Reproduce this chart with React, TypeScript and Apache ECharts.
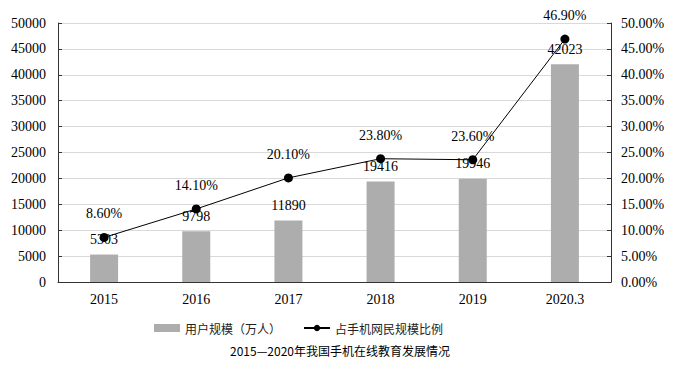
import React, { useEffect, useRef } from "react";
import * as echarts from "echarts";

const categories = ["2015", "2016", "2017", "2018", "2019", "2020.3"];
const userScale = [5303, 9798, 11890, 19416, 19946, 42023];
const ratio = [8.6, 14.1, 20.1, 23.8, 23.6, 46.9];
const seriesNames = ["用户规模（万人）", "占手机网民规模比例"];
const titleText = "2015—2020年我国手机在线教育发展情况";

const serif = "Liberation Serif";
const cjk = "Noto Sans CJK SC";

export default function App() {
  const ref = useRef<HTMLDivElement>(null);
  useEffect(() => {
    if (!ref.current) return;
    const chart = echarts.init(ref.current, null, { renderer: "svg" });
    chart.setOption({
      animation: false,
      backgroundColor: "#ffffff",
      title: {
        text: titleText,
        left: "center",
        top: 339,
        textStyle: { fontFamily: cjk, fontSize: 12, fontWeight: "normal", color: "#000" },
      },
      legend: {
        top: 317,
        left: 149,
        itemGap: 22,
        textStyle: { fontFamily: cjk, fontSize: 12, color: "#222" },
        data: [
          { name: seriesNames[0], icon: "rect" },
          { name: seriesNames[1] },
        ],
        itemWidth: 26,
        itemHeight: 8,
      },
      grid: { left: 58, right: 69, top: 23, bottom: 86 },
      xAxis: {
        type: "category",
        data: categories,
        axisLine: { lineStyle: { color: "#333", width: 1 } },
        axisTick: { show: false },
        axisLabel: { fontFamily: serif, fontSize: 14, color: "#000", margin: 10 },
      },
      yAxis: [
        {
          type: "value",
          min: 0,
          max: 50000,
          interval: 5000,
          axisLine: { show: true, lineStyle: { color: "#333" } },
          axisTick: { show: true, inside: true, length: 4, lineStyle: { color: "#333" } },
          axisLabel: {
            fontFamily: serif,
            fontSize: 14,
            color: "#000",
            margin: 12,
            formatter: (v: number) => String(v),
          },
          splitLine: { lineStyle: { color: "#d9d9d9" } },
        },
        {
          type: "value",
          min: 0,
          max: 50,
          interval: 5,
          axisLine: { show: true, lineStyle: { color: "#333" } },
          axisTick: { show: true, inside: true, length: 4, lineStyle: { color: "#333" } },
          axisLabel: {
            fontFamily: serif,
            fontSize: 14,
            color: "#000",
            margin: 10,
            formatter: (v: number) => v.toFixed(2) + "%",
          },
          splitLine: { show: false },
        },
      ],
      series: [
        {
          name: seriesNames[0],
          type: "bar",
          data: userScale,
          barWidth: 28,
          itemStyle: { color: "#adadad" },
          label: {
            show: true,
            position: "top",
            distance: 8,
            fontFamily: serif,
            fontSize: 14,
            color: "#000",
          },
        },
        {
          name: seriesNames[1],
          type: "line",
          yAxisIndex: 1,
          data: ratio,
          symbol: "circle",
          symbolSize: 9,
          lineStyle: { color: "#000", width: 1 },
          itemStyle: { color: "#000" },
          label: {
            show: true,
            position: "top",
            distance: 12,
            fontFamily: serif,
            fontSize: 14,
            color: "#000",
            formatter: (p: any) => p.value.toFixed(2) + "%",
          },
        },
      ],
    });
    return () => chart.dispose();
  }, []);
  return <div ref={ref} style={{ width: 680, height: 368, position: "absolute", left: 0, top: 0 }} />;
}
